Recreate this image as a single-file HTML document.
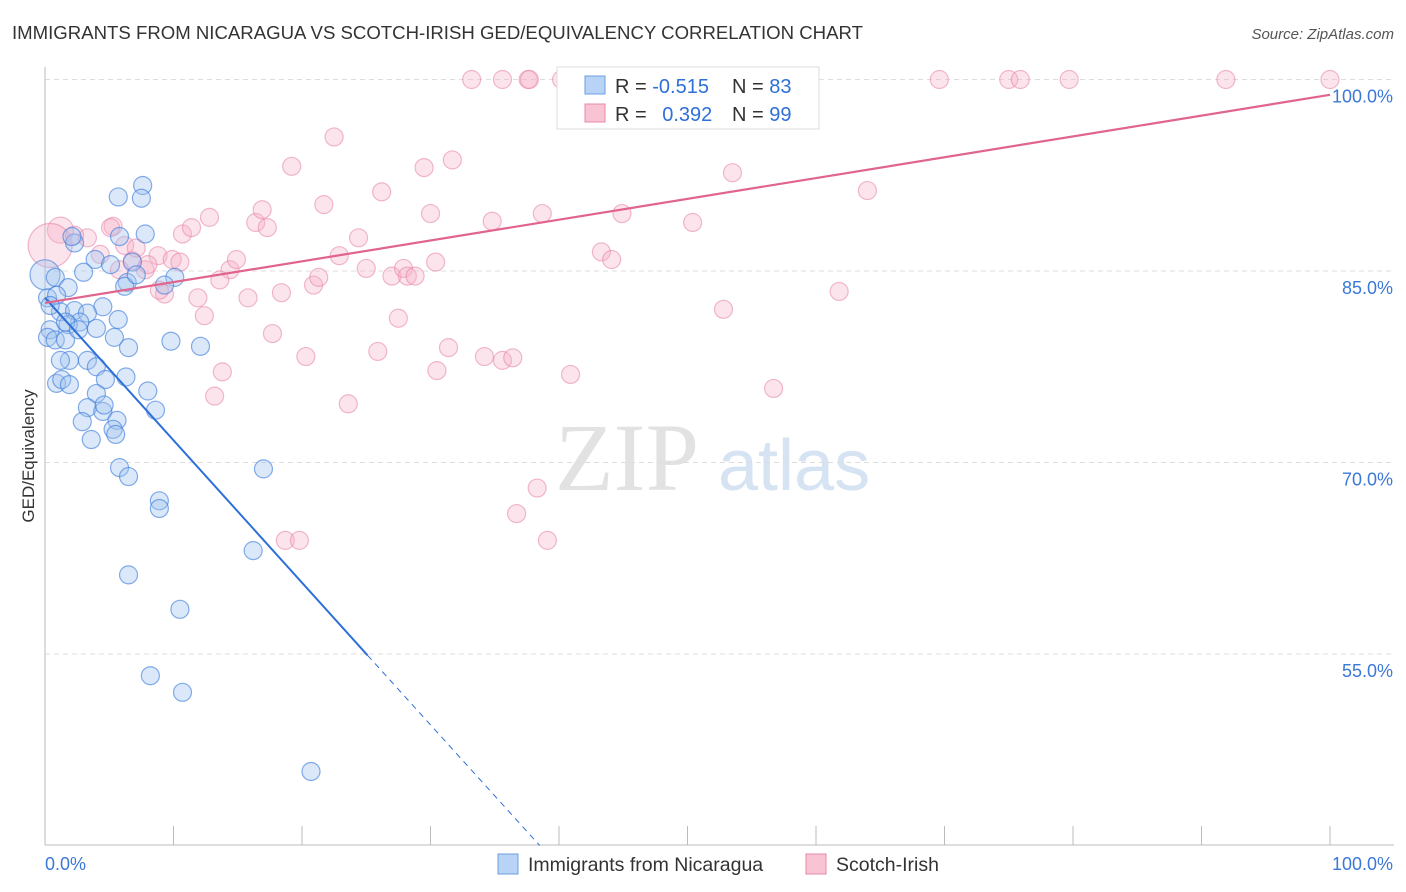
<!DOCTYPE html>
<html><head><meta charset="utf-8"><style>
body{margin:0;background:#fff;font-family:"Liberation Sans",sans-serif;}
</style></head><body>
<svg id="chart" width="1406" height="892" xmlns="http://www.w3.org/2000/svg" style="display:block">
<text x="12" y="39" font-size="18.6" fill="#333" font-family="Liberation Sans, sans-serif">IMMIGRANTS FROM NICARAGUA VS SCOTCH-IRISH GED/EQUIVALENCY CORRELATION CHART</text>
<text x="1394" y="39" font-size="15" fill="#555" text-anchor="end" font-style="italic">Source: ZipAtlas.com</text>
<g>
<text x="555" y="490" font-size="96" fill="#e2e2e2" font-family="Liberation Serif, serif">ZIP</text>
<text x="718" y="490" font-size="72" fill="#d5e3f3">atlas</text>
</g>
<g id="grid"></g>
<g id="axes"></g>
<g id="pts"></g>
<g id="lines"></g>
<g>
<rect x="557" y="67" width="262" height="62" fill="#fff" stroke="#ddd"/>
<rect x="585" y="76" width="20" height="18" fill="#b8d3f5" stroke="#6a9fe0"/>
<rect x="585" y="104" width="20" height="18" fill="#f8c4d3" stroke="#e888a8"/>
<text x="615" y="93" font-size="20" fill="#333">R = <tspan fill="#2e6fd8">-0.515</tspan></text>
<text x="732" y="93" font-size="20" fill="#333">N = <tspan fill="#2e6fd8">83</tspan></text>
<text x="615" y="121" font-size="20" fill="#333">R = <tspan fill="#2e6fd8" dx="10">0.392</tspan></text>
<text x="732" y="121" font-size="20" fill="#333">N = <tspan fill="#2e6fd8">99</tspan></text>
</g>
<text transform="translate(34,456) rotate(-90)" font-size="17" fill="#333" text-anchor="middle">GED/Equivalency</text>
<g>
<rect x="498" y="854" width="20" height="20" fill="#b8d3f5" stroke="#6a9fe0"/>
<text x="528" y="871" font-size="19.5" fill="#333">Immigrants from Nicaragua</text>
<rect x="806" y="854" width="20" height="20" fill="#f8c4d3" stroke="#e888a8"/>
<text x="836" y="871" font-size="19.5" fill="#333">Scotch-Irish</text>
</g>
</svg>
<script>
const yTicks=[100,85,70,55];
const yTickLabels=["100.0%","85.0%","70.0%","55.0%"];
const xTickLabels=["0.0%","100.0%"];
const blueX=[7.6,5.7,7.5,7.8,5.8,2.3,2.1,3.9,5.1,6.8,3.0,0.8,1.8,0.2,0.9,6.4,6.2,7.1,10.1,9.3,4.5,1.2,2.3,3.3,4.0,2.7,1.8,0.4,0.2,0.8,1.6,5.4,6.5,9.8,12.1,3.3,1.9,1.2,4.0,0.9,1.3,1.9,4.7,6.3,8.0,4.0,3.3,4.5,4.6,5.6,2.9,5.3,5.5,8.6,3.6,5.8,6.5,17.0,8.9,8.9,16.2,6.5,10.5,8.2,10.7,20.7,0.4,1.6,2.6,5.7];
const blueY=[91.7,90.8,90.7,87.9,87.7,87.2,87.7,85.9,85.5,85.7,84.9,84.5,83.7,82.9,83.1,84.1,83.8,84.7,84.5,83.9,82.2,81.8,81.9,81.7,80.5,81.0,80.8,80.4,79.8,79.6,79.6,79.8,79.0,79.5,79.1,78.0,78.0,78.0,77.5,76.2,76.5,76.1,76.5,76.7,75.6,75.4,74.3,74.0,74.5,73.3,73.2,72.6,72.2,74.1,71.8,69.6,68.9,69.5,67.0,66.4,63.1,61.2,58.5,53.3,52.0,45.8,82.3,81.0,80.4,81.2];
const pinkX=[3.3,2.3,4.3,5.3,6.2,6.8,7.8,8.8,9.9,10.5,9.3,10.7,11.4,12.8,11.9,12.4,13.8,13.2,14.4,14.9,15.8,16.4,16.9,17.3,18.4,17.7,19.2,20.3,20.9,21.3,21.7,22.5,22.9,23.6,24.4,25.0,25.9,26.2,27.0,27.5,27.9,28.2,28.8,29.5,30.0,30.4,30.5,31.4,31.7,33.2,34.2,34.8,35.6,35.6,36.4,36.7,37.6,37.7,38.3,38.7,39.1,40.2,40.9,43.3,44.1,44.9,46.1,50.4,52.8,53.5,56.7,61.8,64.0,69.6,75.0,75.9,79.7,91.9,100,18.7,19.8,8.9,7.1,8.0,5.1,5.8,13.6];
const pinkY=[87.6,87.8,86.3,88.5,87.0,85.8,85.1,86.2,85.9,85.7,83.2,87.9,88.4,89.2,82.9,81.5,77.1,75.2,85.1,85.9,82.9,88.8,89.8,88.4,83.3,80.1,93.2,78.3,83.9,84.5,90.2,95.5,86.2,74.6,87.6,85.2,78.7,91.2,84.6,81.3,85.2,84.6,84.6,93.1,89.5,85.7,77.2,79.0,93.7,100,78.3,88.9,100,78.0,78.2,66.0,100,100,68.0,89.5,63.9,100,76.9,86.5,85.9,89.5,100,88.8,82.0,92.7,75.8,83.4,91.3,100,100,100,100,100,100,63.9,63.9,83.5,86.8,85.5,88.4,85.1,84.3];
const bigBlue=[[0.0,84.7,15]];
const bigPink=[[1.2,88.2,13],[0.4,87.0,22]];
const blueLineX=[0,25.1,38.5];
const blueLineY=[82.9,54.9,40];
const pinkLineX=[0,100];
const pinkLineY=[82.5,98.8];

const X0=45,X1=1330,Y100=79.5,PX=12.767;
const sx=v=>X0+(X1-X0)*v/100;
const sy=v=>Y100+(100-v)*PX;
const NS="http://www.w3.org/2000/svg";
function mk(tag,attrs,parent){const e=document.createElementNS(NS,tag);for(const k in attrs)e.setAttribute(k,attrs[k]);parent.appendChild(e);return e;}
const grid=document.getElementById('grid'),axes=document.getElementById('axes'),pts=document.getElementById('pts'),lines=document.getElementById('lines');
yTicks.forEach((t,i)=>{
 const l=mk('line',{x1:X0,x2:1394,y1:sy(t),y2:sy(t),stroke:'#ddd','stroke-dasharray':'5,4'},grid);
 
 
 const tx=mk('text',{x:1393,y:sy(t)+23,'font-size':18,fill:'#3b78d8','text-anchor':'end'},axes);
 tx.textContent=yTickLabels[i];
 
 
});
const yAxis=mk('line',{x1:X0,x2:X0,y1:67,y2:845,stroke:'#bbb'},axes);


const xAxis=mk('line',{x1:X0,x2:1394,y1:845,y2:845,stroke:'#bbb'},axes);


for(let i=0;i<=10;i++){
 const tk=mk('line',{x1:sx(i*10),x2:sx(i*10),y1:826,y2:845,stroke:'#bbb'},axes);
 
 
}
[[0,'start',45],[100,'end',1393]].forEach((d,i)=>{
 const tx=mk('text',{x:d[2],y:870,'font-size':18,fill:'#3b78d8','text-anchor':d[1]},axes);
 tx.textContent=xTickLabels[i];
 
 
});
function dot(x,y,r,c,name){
 const fill=c==='b'?'rgba(160,195,240,0.38)':'rgba(245,178,200,0.35)';
 const st=c==='b'?'rgba(60,125,220,0.62)':'rgba(230,130,165,0.55)';
 const e=mk('circle',{cx:sx(x),cy:sy(y),r:r,fill:fill,stroke:st,'stroke-width':1.2},pts);
 
 
}
bigPink.forEach(p=>dot(p[0],p[1],p[2],'p','scotch-irish-point'));
bigBlue.forEach(p=>dot(p[0],p[1],p[2],'b','nicaragua-point'));
pinkX.forEach((x,i)=>dot(x,pinkY[i],9,'p','scotch-irish-point'));
blueX.forEach((x,i)=>dot(x,blueY[i],9,'b','nicaragua-point'));
const bl=mk('line',{x1:sx(blueLineX[0]),y1:sy(blueLineY[0]),x2:sx(blueLineX[1]),y2:sy(blueLineY[1]),stroke:'#2e6fd8','stroke-width':2},lines);


const bd=mk('line',{x1:sx(blueLineX[1]),y1:sy(blueLineY[1]),x2:sx(blueLineX[2]),y2:sy(blueLineY[2]),stroke:'#2e6fd8','stroke-width':1,'stroke-dasharray':'6,5'},lines);


const pl=mk('line',{x1:sx(pinkLineX[0]),y1:sy(pinkLineY[0]),x2:sx(pinkLineX[1]),y2:sy(pinkLineY[1]),stroke:'#e0648e','stroke-width':2.2},lines);


</script>
</body></html>
